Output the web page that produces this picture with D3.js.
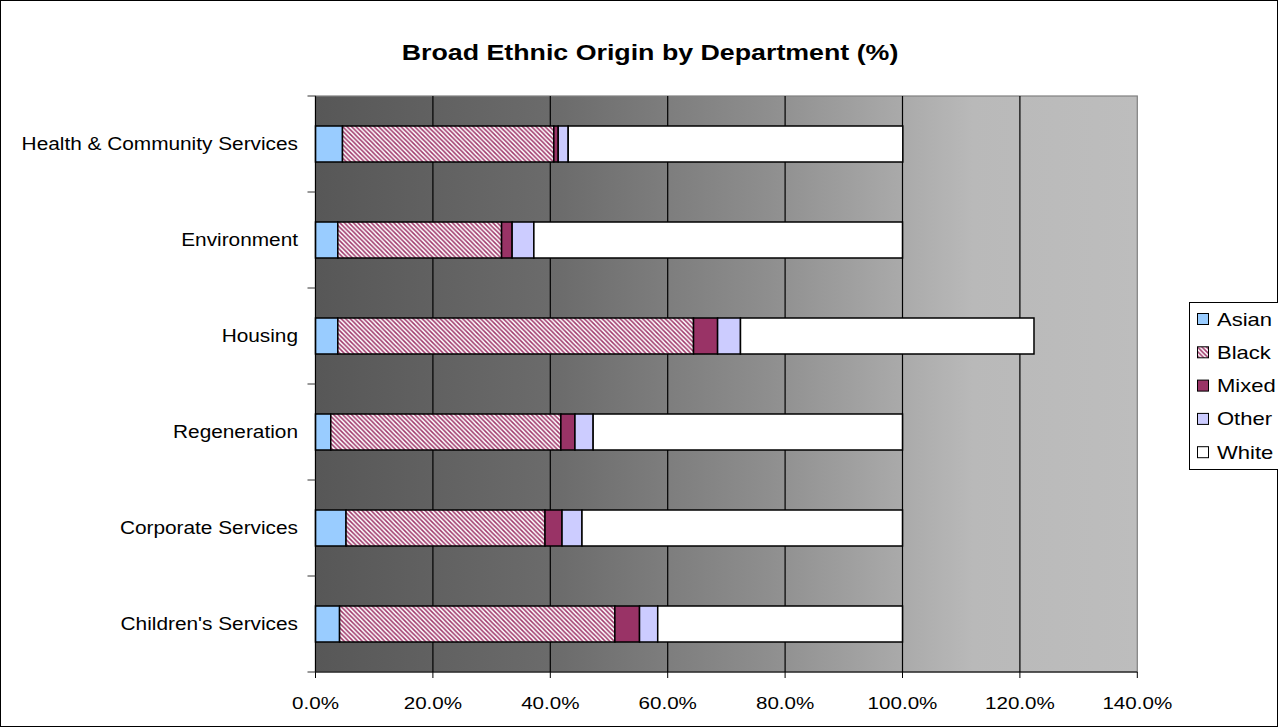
<!DOCTYPE html>
<html><head><meta charset="utf-8">
<script src="https://cdn.jsdelivr.net/npm/d3@7"></script>
<style>body{margin:0;background:#fff}svg{display:block}text{font-family:"Liberation Sans",Arial,sans-serif;fill:#000}</style>
</head><body><svg id="c" width="1278" height="727"></svg>
<script>
const categories = ["Health & Community Services","Environment","Housing","Regeneration","Corporate Services","Children's Services"];
const seriesNames = ["Asian","Black","Mixed","Other","White"];
const asian = [4.6, 3.8, 3.8, 2.6, 5.2, 4.1];
const black = [36.0, 27.9, 60.6, 39.2, 33.9, 46.9];
const mixed = [0.75, 1.8, 4.1, 2.4, 2.9, 4.2];
const other = [1.7, 3.7, 3.9, 3.1, 3.4, 3.1];
const white = [57.0, 62.8, 50.0, 52.7, 54.6, 41.7];
const xTicks = [0, 20, 40, 60, 80, 100, 120, 140];
const title = "Broad Ethnic Origin by Department (%)";

const colors = {Asian:"#99ccff", Black:"url(#hatch)", Mixed:"#993366", Other:"#ccccff", White:"#ffffff"};
const SX = 1.19;
const svg = d3.select("#c");
const W = 1278, H = 727;
const L = 315.5, R = 1137.3, T = 96, B = 672;

const defs = svg.append("defs");
const P = 4.5;
const pat = defs.append("pattern").attr("id","hatch").attr("width",P).attr("height",P).attr("patternUnits","userSpaceOnUse");
pat.append("rect").attr("width",P).attr("height",P).attr("fill","#fff");
pat.append("path").attr("d",`M-1,-1L${P+1},${P+1}M-1,${P-1}L1,${P+1}M${P-1},-1L${P+1},1`).attr("stroke","#a03a6c").attr("stroke-width",1.55);
const grad = defs.append("linearGradient").attr("id","bg").attr("x1","0").attr("x2","1").attr("y1","0").attr("y2","0");
[[0,"#575757"],[0.3,"#6c6c6c"],[0.55,"#8e8e8e"],[0.72,"#ababab"],[0.8,"#b9b9b9"],[1,"#bdbdbd"]].forEach(s=>grad.append("stop").attr("offset",s[0]).attr("stop-color",s[1]));

svg.append("rect").attr("x",0.5).attr("y",0.5).attr("width",W-1).attr("height",H-1).attr("fill","#fff").attr("stroke","#000");

function txt(g, x, y, s, anchor, size, weight){
  return g.append("text").attr("transform",`translate(${x},${y}) scale(${SX},1)`)
    .attr("text-anchor",anchor).attr("font-size",size).attr("font-weight",weight||"normal").text(s);
}

txt(svg, 650, 60, title, "middle", 22.5, "bold");

const x = d3.scaleLinear().domain([0,140]).range([L,R]);
const y = d3.scaleBand().domain(categories).range([T,B]).paddingInner(0.625).paddingOuter(0.3125);

svg.append("rect").attr("x",L).attr("y",T).attr("width",R-L).attr("height",B-T).attr("fill","url(#bg)").attr("stroke","#808080").attr("stroke-width",1.2);

// gridlines
svg.append("g").selectAll("line").data(xTicks.slice(1,-1)).join("line")
  .attr("x1",d=>x(d)).attr("x2",d=>x(d)).attr("y1",T).attr("y2",B).attr("stroke","#000").attr("stroke-width",1.2);

// bars
const rows = categories.map((c,i)=>({cat:c, Asian:asian[i], Black:black[i], Mixed:mixed[i], Other:other[i], White:white[i]}));
const stacked = d3.stack().keys(seriesNames)(rows);
svg.append("g").selectAll("g").data(stacked).join("g")
  .attr("fill",d=>colors[d.key])
  .selectAll("rect").data(d=>d).join("rect")
  .attr("x",d=>x(d[0])).attr("width",d=>x(d[1])-x(d[0]))
  .attr("y",d=>y(d.data.cat)).attr("height",y.bandwidth())
  .attr("stroke","#000").attr("stroke-width",1.5);

// axes
const ax = svg.append("g").attr("transform",`translate(0,${B})`);
ax.append("line").attr("x1",L).attr("x2",R).attr("stroke","#000").attr("stroke-width",1.2);
xTicks.forEach(t=>{
  ax.append("line").attr("x1",x(t)).attr("x2",x(t)).attr("y1",0).attr("y2",6).attr("stroke","#000");
  txt(ax, x(t), 37, d3.format(".1f")(t)+"%", "middle", 17.3);
});
const ay = svg.append("g");
ay.append("line").attr("x1",L).attr("x2",L).attr("y1",T).attr("y2",B).attr("stroke","#000").attr("stroke-width",1.2);
const step = y.step();
d3.range(categories.length+1).forEach(i=>{
  const yy = T + i*step;
  ay.append("line").attr("x1",L-8).attr("x2",L).attr("y1",yy).attr("y2",yy).attr("stroke","#333");
});
categories.forEach(c=>{
  txt(ay, 298, y(c)+y.bandwidth()/2+6, c, "end", 17.5);
});

// legend
const lg = svg.append("g");
lg.append("rect").attr("x",1189.5).attr("y",302.5).attr("width",100).attr("height",167).attr("fill","#fff").attr("stroke","#000");
seriesNames.forEach((s,i)=>{
  const cy = 319 + i*33.3;
  lg.append("rect").attr("x",1197.5).attr("y",cy-5.5).attr("width",11).attr("height",11).attr("fill",colors[s]).attr("stroke","#000");
  txt(lg, 1217, cy+6.5, s, "start", 18.5);
});
</script></body></html>
